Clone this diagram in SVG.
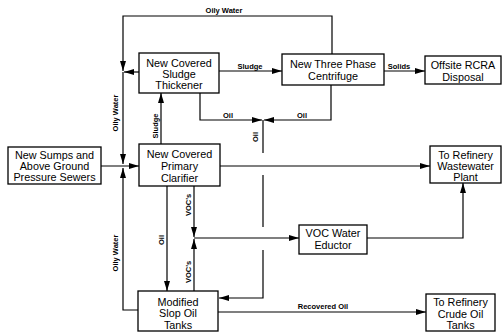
<svg xmlns="http://www.w3.org/2000/svg" width="502" height="333" viewBox="0 0 502 333">
<style>
.box{fill:#fff;stroke:#000;stroke-width:1.3}
.t{font-family:"Liberation Sans",Arial,sans-serif;font-size:10.8px;text-anchor:middle;fill:#000}
.l{font-family:"Liberation Sans",Arial,sans-serif;font-size:7.5px;font-weight:bold;text-anchor:middle;fill:#000}
.c{fill:none;stroke:#000;stroke-width:1.2}
</style>
<defs>
<marker id="ah" viewBox="0 0 10 6" refX="10" refY="3" markerWidth="10" markerHeight="6" markerUnits="userSpaceOnUse" orient="auto">
<path d="M0,0 L10,3 L0,6 z" fill="#000"/>
</marker>
</defs>
<g id="connectors">
<path class="c" d="M332,54 V16 H123 V71" marker-end="url(#ah)"/>
<path class="c" d="M123,72 V164" marker-end="url(#ah)"/>
<path class="c" d="M139,72 H124" marker-end="url(#ah)"/>
<path class="c" d="M101,166 H139" marker-end="url(#ah)"/>
<path class="c" d="M138,310 H123 V168" marker-end="url(#ah)"/>
<path class="c" d="M161,144 V93" marker-end="url(#ah)"/>
<path class="c" d="M200,93 V120 H262" marker-end="url(#ah)"/>
<path class="c" d="M331,85 V120 H264" marker-end="url(#ah)"/>
<path class="c" d="M263,120 V153 M263,175 V227"/>
<path class="c" d="M263,250 V298 H219" marker-end="url(#ah)"/>
<path class="c" d="M219,71 H282" marker-end="url(#ah)"/>
<path class="c" d="M384,71 H425" marker-end="url(#ah)"/>
<path class="c" d="M220,166 H430" marker-end="url(#ah)"/>
<path class="c" d="M167,186 V291" marker-end="url(#ah)"/>
<path class="c" d="M194,186 V237" marker-end="url(#ah)"/>
<path class="c" d="M194,291 V239" marker-end="url(#ah)"/>
<path class="c" d="M194,238 H299" marker-end="url(#ah)"/>
<path class="c" d="M367,238 H463 V183" marker-end="url(#ah)"/>
<path class="c" d="M218,312 H426" marker-end="url(#ah)"/>
<text class="l" x="224" y="13">Oily Water</text>
<text class="l" x="250" y="69">Sludge</text>
<text class="l" x="399" y="69">Solids</text>
<text class="l" x="228" y="118">Oil</text>
<text class="l" x="302" y="118">Oil</text>
<text class="l" transform="translate(258,137) rotate(-90)">Oil</text>
<text class="l" transform="translate(118,113) rotate(-90)">Oily Water</text>
<text class="l" transform="translate(158,126) rotate(-90)">Sludge</text>
<text class="l" transform="translate(118,253) rotate(-90)">Oily Water</text>
<text class="l" transform="translate(164,240) rotate(-90)">Oil</text>
<text class="l" transform="translate(191,205) rotate(-90)">VOC's</text>
<text class="l" transform="translate(191,272) rotate(-90)">VOC's</text>
<text class="l" x="323" y="309">Recovered Oil</text>
</g>
<g id="sumps">
<rect class="box" x="8" y="147" width="93" height="37"/>
<text class="t" x="54.5" y="158.5">New Sumps and</text>
<text class="t" x="54.5" y="169.5">Above Ground</text>
<text class="t" x="54.5" y="180.5">Pressure Sewers</text>
</g>
<g id="thickener">
<rect class="box" x="139" y="53" width="80" height="40"/>
<text class="t" x="179" y="66.5">New Covered</text>
<text class="t" x="179" y="78">Sludge</text>
<text class="t" x="179" y="89">Thickener</text>
</g>
<g id="clarifier">
<rect class="box" x="139" y="144" width="81" height="42"/>
<text class="t" x="179.5" y="158">New Covered</text>
<text class="t" x="179.5" y="170">Primary</text>
<text class="t" x="179.5" y="182">Clarifier</text>
</g>
<g id="centrifuge">
<rect class="box" x="282" y="54" width="102" height="31"/>
<text class="t" x="333" y="68">New Three Phase</text>
<text class="t" x="333" y="80">Centrifuge</text>
</g>
<g id="offsite">
<rect class="box" x="425" y="56" width="76" height="28"/>
<text class="t" x="463" y="69">Offsite RCRA</text>
<text class="t" x="463" y="81">Disposal</text>
</g>
<g id="wastewater">
<rect class="box" x="430" y="146" width="71" height="37"/>
<text class="t" x="465.5" y="158.5">To Refinery</text>
<text class="t" x="465.5" y="169.5">Wastewater</text>
<text class="t" x="465.5" y="180.5">Plant</text>
</g>
<g id="eductor">
<rect class="box" x="299" y="225" width="68" height="29"/>
<text class="t" x="333" y="237">VOC Water</text>
<text class="t" x="333" y="249">Eductor</text>
</g>
<g id="slop">
<rect class="box" x="138" y="291" width="80" height="40"/>
<text class="t" x="178" y="305.5">Modified</text>
<text class="t" x="178" y="317">Slop Oil</text>
<text class="t" x="178" y="328.5">Tanks</text>
</g>
<g id="crude">
<rect class="box" x="426" y="294" width="69" height="37"/>
<text class="t" x="460.5" y="306">To Refinery</text>
<text class="t" x="460.5" y="317.5">Crude Oil</text>
<text class="t" x="460.5" y="329">Tanks</text>
</g>
</svg>
